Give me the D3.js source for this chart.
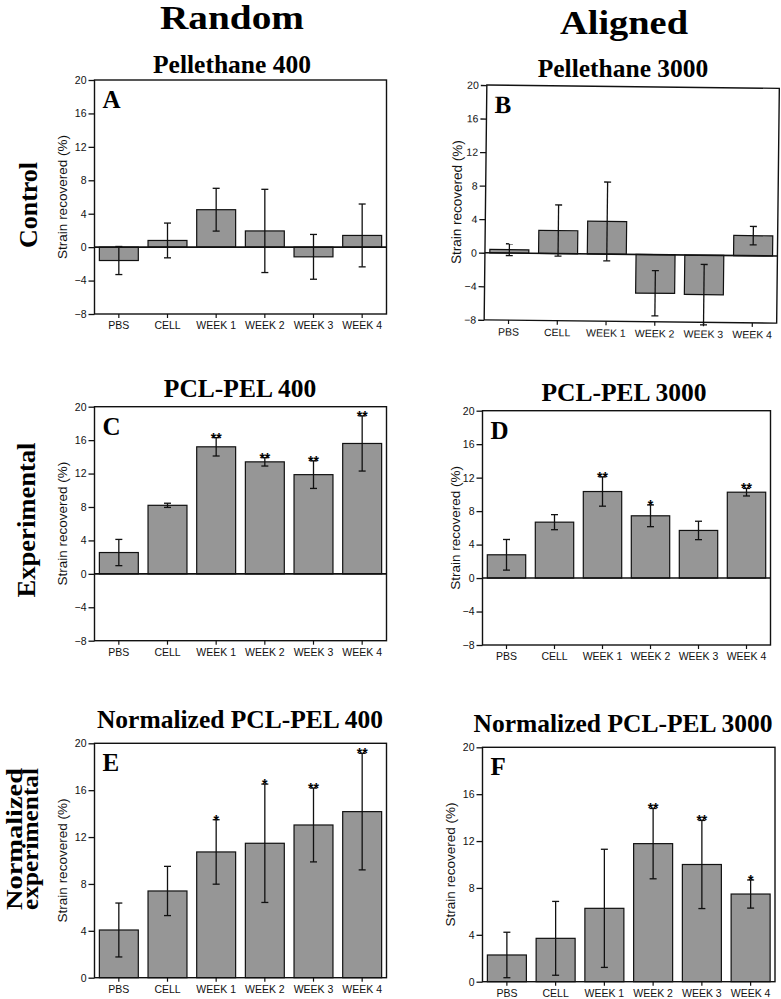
<!DOCTYPE html>
<html>
<head>
<meta charset="utf-8">
<script src="https://cdn.jsdelivr.net/npm/d3@7"></script>
<style>
  body { margin: 0; background: #fff; }
  .serif { font-family: "Liberation Serif", "Times New Roman", serif; font-weight: bold; }
  .tick text, .cat, .ytitle { font-family: "Liberation Sans", Arial, sans-serif; }
</style>
</head>
<body>
<script>
// categories and ticks
var categories = ['PBS', 'CELL', 'WEEK 1', 'WEEK 2', 'WEEK 3', 'WEEK 4'];
var ticksFull = [-8, -4, 0, 4, 8, 12, 16, 20];
var ticksPos = [0, 4, 8, 12, 16, 20];

// A - Pellethane 400 (random, control)
var pel400Means = [-1.6, 0.8, 4.48, 1.94, -1.16, 1.4];
var pel400Errs  = [1.68, 2.08, 2.56, 4.98, 2.68, 3.76];
var pel400Stars = ['', '', '', '', '', ''];

// B - Pellethane 3000 (aligned, control)
var pel3000Means = [0.4, 2.75, 3.9, -4.6, -4.7, 2.4];
var pel3000Errs  = [0.7, 3.05, 4.7, 2.7, 3.6, 1.1];
var pel3000Stars = ['', '', '', '', '', ''];

// C - PCL-PEL 400
var pcl400Means = [2.55, 8.2, 15.2, 13.4, 11.87, 15.6];
var pcl400Errs  = [1.57, 0.25, 1.1, 0.5, 1.65, 3.3];
var pcl400Stars = ['', '', '**', '**', '**', '**'];

// D - PCL-PEL 3000
var pcl3000Means = [2.78, 6.68, 10.34, 7.44, 5.69, 10.26];
var pcl3000Errs  = [1.83, 0.9, 1.75, 1.3, 1.1, 0.45];
var pcl3000Stars = ['', '', '**', '*', '', '**'];

// E - Normalized PCL-PEL 400
var norm400Means = [4.07, 7.4, 10.73, 11.47, 13.03, 14.17];
var norm400Errs  = [2.3, 2.1, 2.75, 5.05, 3.15, 4.97];
var norm400Stars = ['', '', '*', '*', '**', '**'];

// F - Normalized PCL-PEL 3000
var norm3000Means = [2.28, 3.7, 6.26, 11.78, 10.0, 7.48];
var norm3000Errs  = [1.94, 3.15, 5.04, 3.0, 3.76, 1.2];
var norm3000Stars = ['', '', '', '**', '**', '*'];

var width = 781, height = 999;

var svg = d3.select('body').append('svg')
    .attr('width', width)
    .attr('height', height)
    .style('background-color', '#FFFFFF');

// column headings
function heading(txt, x, y, len) {
    svg.append('text').attr('class', 'serif')
        .attr('x', x - len / 2).attr('y', y)
        .attr('textLength', len).attr('lengthAdjust', 'spacingAndGlyphs')
        .style('font-size', '33px')
        .text(txt);
}
heading('Random', 232, 29, 144);
heading('Aligned', 624, 34, 128);

// row headings (rotated), one text per line
function rowLabel(txt, x, y, size, len) {
    svg.append('text').attr('class', 'serif')
        .attr('transform', 'translate(' + x + ',' + y + ') rotate(-90)')
        .attr('x', -len / 2)
        .attr('textLength', len).attr('lengthAdjust', 'spacingAndGlyphs')
        .style('font-size', size + 'px')
        .text(txt);
}
rowLabel('Control', 37, 205, 26, 86);
rowLabel('Experimental', 35, 520, 26, 155);
rowLabel('Normalized', 22, 839, 24, 142);
rowLabel('experimental', 38, 839, 24, 142);

// panel layout
var panels = [
    { letter: 'A', title: 'Pellethane 400', tx: 232, ty: 73,
      means: pel400Means, errs: pel400Errs, stars: pel400Stars, ticks: ticksFull,
      left: 94.5, right: 386.5, top: 80, bottom: 314, labX: 28, rot: 0 },
    { letter: 'B', title: 'Pellethane 3000', tx: 623, ty: 77,
      means: pel3000Means, errs: pel3000Errs, stars: pel3000Stars, ticks: ticksFull,
      left: 485.5, right: 778, top: 86.7, bottom: 321.5, labX: 24, rot: 0.65 },
    { letter: 'C', title: 'PCL-PEL 400', tx: 240, ty: 397,
      means: pcl400Means, errs: pcl400Errs, stars: pcl400Stars, ticks: ticksFull,
      left: 94.5, right: 386.5, top: 406.7, bottom: 640.7, labX: 28, rot: 0 },
    { letter: 'D', title: 'PCL-PEL 3000', tx: 624, ty: 401,
      means: pcl3000Means, errs: pcl3000Errs, stars: pcl3000Stars, ticks: ticksFull,
      left: 482.5, right: 770.5, top: 410.7, bottom: 645, labX: 23, rot: 0 },
    { letter: 'E', title: 'Normalized PCL-PEL 400', tx: 240, ty: 728,
      means: norm400Means, errs: norm400Errs, stars: norm400Stars, ticks: ticksPos,
      left: 94.5, right: 386.5, top: 743.3, bottom: 977.7, labX: 28, rot: 0 },
    { letter: 'F', title: 'Normalized PCL-PEL 3000', tx: 623, ty: 732,
      means: norm3000Means, errs: norm3000Errs, stars: norm3000Stars, ticks: ticksPos,
      left: 482.5, right: 775, top: 747.3, bottom: 981.7, labX: 28, rot: 0 }
];

panels.forEach(function (p) {
    // panel title
    svg.append('text').attr('class', 'serif')
        .attr('x', p.tx).attr('y', p.ty)
        .attr('text-anchor', 'middle').style('font-size', '25.5px')
        .text(p.title);

    var cx = (p.left + p.right) / 2, cy = (p.top + p.bottom) / 2;
    var g = svg.append('g')
        .attr('transform', 'rotate(' + p.rot + ',' + cx + ',' + cy + ')');

    var x = d3.scaleBand().domain(categories)
        .range([p.left, p.right])
        .paddingInner(0.2).paddingOuter(0.1);
    var y = d3.scaleLinear()
        .domain([d3.min(p.ticks), d3.max(p.ticks)])
        .range([p.bottom, p.top]);

    var rows = categories.map(function (c, i) {
        return { cat: c, v: p.means[i], e: p.errs[i], s: p.stars[i] };
    });

    // bars
    g.selectAll('.bar').data(rows).enter().append('rect')
        .attr('class', 'bar')
        .attr('x', function (d) { return x(d.cat); })
        .attr('width', x.bandwidth())
        .attr('y', function (d) { return y(Math.max(0, d.v)); })
        .attr('height', function (d) { return Math.abs(y(d.v) - y(0)); })
        .attr('fill', '#969696')
        .attr('stroke', '#111')
        .attr('stroke-width', 1.2);

    // error bars
    var eb = g.selectAll('.err').data(rows).enter().append('g').attr('class', 'err')
        .attr('stroke', '#111').attr('stroke-width', 1.3);
    eb.append('line')
        .attr('x1', function (d) { return x(d.cat) + x.bandwidth() / 2; })
        .attr('x2', function (d) { return x(d.cat) + x.bandwidth() / 2; })
        .attr('y1', function (d) { return y(d.v + d.e); })
        .attr('y2', function (d) { return y(d.v - d.e); });
    [1, -1].forEach(function (sgn) {
        eb.append('line')
            .attr('x1', function (d) { return x(d.cat) + x.bandwidth() / 2 - 3.5; })
            .attr('x2', function (d) { return x(d.cat) + x.bandwidth() / 2 + 3.5; })
            .attr('y1', function (d) { return y(d.v + sgn * d.e); })
            .attr('y2', function (d) { return y(d.v + sgn * d.e); });
    });

    // significance stars
    g.selectAll('.star').data(rows.filter(function (d) { return d.s; })).enter().append('text')
        .attr('class', 'star')
        .attr('x', function (d) { return x(d.cat) + x.bandwidth() / 2; })
        .attr('y', function (d) { return y(d.v + d.e) + 5; })
        .attr('text-anchor', 'middle')
        .style('font-family', '"Liberation Sans", Arial, sans-serif')
        .style('font-weight', 'bold')
        .style('font-size', '14px')
        .text(function (d) { return d.s; });

    // zero line
    if (d3.min(p.ticks) < 0) {
        g.append('line')
            .attr('x1', p.left).attr('x2', p.right)
            .attr('y1', y(0)).attr('y2', y(0))
            .attr('stroke', '#111').attr('stroke-width', 1.6);
    }

    // frame
    g.append('rect')
        .attr('x', p.left).attr('y', p.top)
        .attr('width', p.right - p.left).attr('height', p.bottom - p.top)
        .attr('fill', 'none').attr('stroke', '#111').attr('stroke-width', 1.4);

    // axes
    var ya = g.append('g')
        .attr('transform', 'translate(' + p.left + ',0)')
        .call(d3.axisLeft(y).tickValues(p.ticks).tickSize(6).tickPadding(2));
    ya.select('.domain').remove();
    ya.selectAll('.tick line').attr('stroke', '#111').attr('stroke-width', 1.3);
    ya.selectAll('.tick text').style('font-size', '10.5px').attr('fill', '#111');

    var xa = g.append('g')
        .attr('transform', 'translate(0,' + p.bottom + ')')
        .call(d3.axisBottom(x).tickSize(4).tickPadding(4));
    xa.select('.domain').remove();
    xa.selectAll('.tick line').attr('stroke', '#111').attr('stroke-width', 1.2);
    xa.selectAll('.tick text').style('font-size', '10.5px').attr('fill', '#111');

    // y axis title
    g.append('text').attr('class', 'ytitle')
        .attr('transform', 'translate(' + (p.left - p.labX) + ',' + cy + ') rotate(-90)')
        .attr('text-anchor', 'middle')
        .style('font-size', '13.5px')
        .attr('fill', '#111')
        .text('Strain recovered (%)');

    // panel letter
    g.append('text').attr('class', 'serif')
        .attr('x', p.left + 8).attr('y', p.top + 28)
        .style('font-size', '25px')
        .text(p.letter);
});
</script>
</body>
</html>
